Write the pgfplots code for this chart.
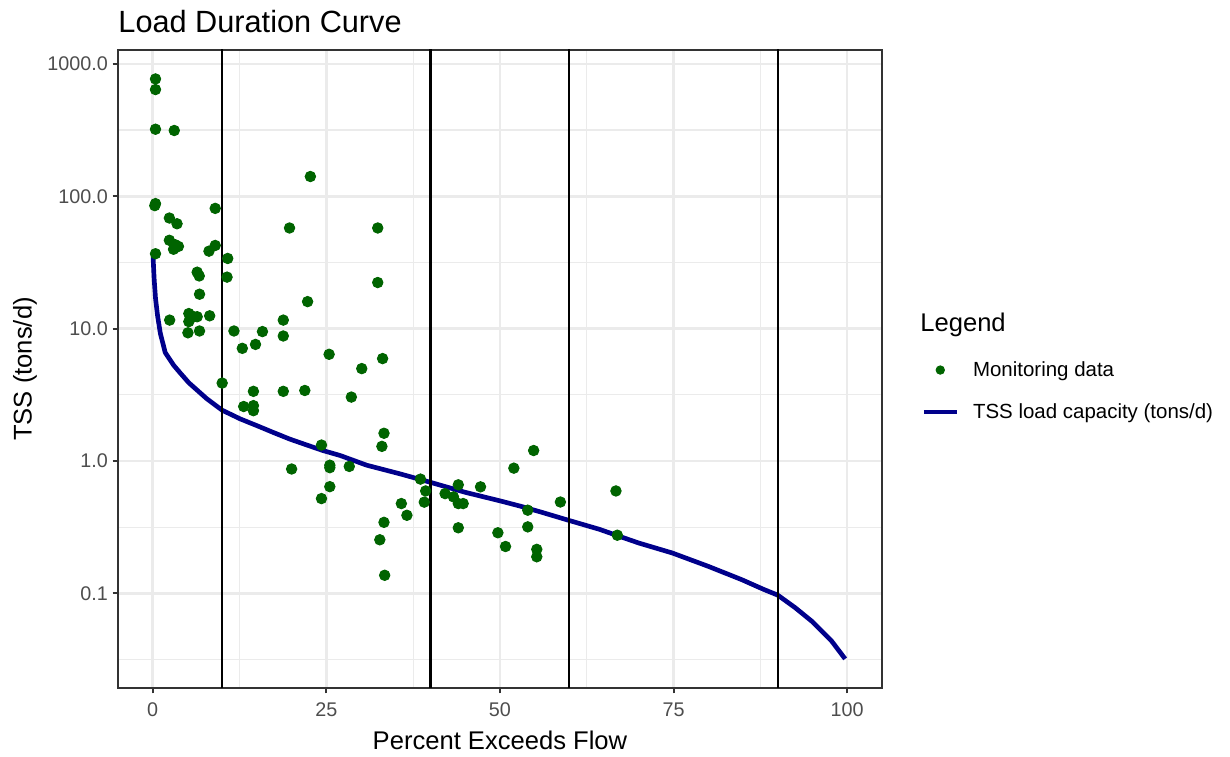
\documentclass[border=0pt]{standalone}
\usepackage{fontspec}
\setmainfont{Liberation Sans}
\usepackage{pgfplots}
\pgfplotsset{compat=1.18}

\definecolor{gray92}{RGB}{235,235,235}
\definecolor{gray30}{RGB}{77,77,77}
\definecolor{gray20}{RGB}{51,51,51}
\definecolor{ptgreen}{RGB}{0,100,0}
\definecolor{capblue}{RGB}{0,0,139}

\pgfplotsset{
    linekey/.style={legend image code/.code={\draw[##1] (0pt,0pt) -- (14.2pt,0pt);}},
    dotkey/.style={legend image code/.code={\path (0pt,0pt) (14.2pt,0pt); \fill[ptgreen] (7.1pt,0pt) circle (1.8pt);}},
}

\begin{document}
\begin{tikzpicture}
\useasboundingbox (-50.74pt,-29.67pt) rectangle (478.2pt,295.84pt);
\begin{axis}[
    scale only axis,
    width=328.52pt, height=274.34pt,
    xmin=-5, xmax=105,
    ymode=log, ymin=0.0193, ymax=1274,
    xtick={0,25,50,75,100},
    minor xtick={12.5,37.5,62.5,87.5},
    ytick={0.1,1,10,100,1000},
    yticklabels={0.1,1.0,10.0,100.0,1000.0},
    minor ytick={0.0316228,0.316228,3.16228,31.6228,316.228},
    grid=both,
    major grid style={color=gray92, line width=1.07pt},
    minor grid style={color=gray92, line width=0.53pt},
    minor tick length=0pt,
    major tick length=2.3pt,
    tick align=outside,
    tick pos=left,
    every tick/.style={gray20, line width=0.8pt},
    axis line style={gray20, line width=0.8pt},
    /pgf/number format/assume math mode=true,
    tick label style={font=\fontsize{8.5}{10}\selectfont, text=gray30},
    yticklabel style={xshift=1.5pt},
    xticklabel style={yshift=-0.5pt},
    label style={font=\fontsize{11}{13}\selectfont},
    xlabel={Percent Exceeds Flow},
    ylabel={TSS (tons/d)},
    xlabel style={at={(axis description cs:0.5,-0.0817)}, anchor=center},
    ylabel style={at={(axis description cs:-0.1218,0.5)}, anchor=center},
    legend cell align=left,
    reverse legend,
    legend style={draw=none, fill=none, at={(axis description cs:1.0511,0.4655)}, anchor=west,
        inner sep=0pt, row sep=7.5pt, column sep=6.0pt,
        nodes={inner sep=0pt, text height=8pt, text depth=2.5pt},
        font=\fontsize{8.8}{10}\selectfont},
]

% TSS load capacity curve
\addplot[capblue, line width=2.0pt, line join=round, linekey]
coordinates {
(0.05,35) (0.2,24) (0.4,17) (0.7,12.5) (1.1,9.2) (1.8,6.6) (3.0,5.3)
(4.0,4.6) (5.2,3.9) (7.8,2.95) (10,2.42) (12.6,2.08) (15,1.85) (17.4,1.64)
(19.8,1.46) (22.2,1.32) (24.5,1.20) (27,1.10) (30.8,0.93) (35.6,0.80)
(40,0.69) (45,0.58) (50,0.50) (53,0.455) (56,0.41) (60,0.355) (64.3,0.305)
(67,0.272) (70,0.24) (74.8,0.202) (80,0.16) (84.8,0.127) (88,0.107)
(90,0.097) (92.5,0.078) (95,0.061) (97.7,0.044) (99.7,0.032)
};

% flow zone boundaries
\addplot[black, line width=0.9pt, forget plot] coordinates {(10,0.001) (10,10000)};
\addplot[black, line width=0.9pt, forget plot] coordinates {(40,0.001) (40,10000)};
\addplot[black, line width=0.9pt, forget plot] coordinates {(60,0.001) (60,10000)};
\addplot[black, line width=0.9pt, forget plot] coordinates {(90,0.001) (90,10000)};

% monitoring data
\addplot[only marks, mark=*, mark size=2.25pt, color=ptgreen, mark options={draw=ptgreen, fill=ptgreen}, dotkey]
coordinates {
(0.4,770) (0.4,640) (0.4,321) (3.1,314) (0.3,85) (0.4,88) (9.0,81)
(2.4,68.5) (3.5,62) (2.4,46.5) (3.25,43) (3.7,41.8) (3.0,39.8) (0.4,36.8)
(9.0,42.5) (8.1,38.5) (10.8,33.9) (10.7,24.5) (6.4,26.7) (6.7,25) (6.74,18.2)
(2.44,11.6) (5.2,13.0) (5.9,12.3) (5.2,11.3) (6.4,12.3) (8.2,12.5) (5.07,9.3)
(6.74,9.6) (11.7,9.6) (12.9,7.1) (14.8,7.6) (15.8,9.5) (18.8,11.6) (18.8,8.8)
(22.3,16) (25.4,6.4) (10.0,3.88) (14.5,3.36) (18.8,3.36) (21.9,3.41)
(13.1,2.58) (14.5,2.62) (14.5,2.4) (24.3,1.32) (25.5,0.93) (25.5,0.89)
(20.0,0.87) (25.5,0.64) (24.3,0.52) (22.7,141) (19.7,57.6) (32.4,57.6)
(32.4,22.3) (30.1,4.99) (33.1,5.94) (28.6,3.04) (28.3,0.91) (33.3,1.62)
(33.0,1.29) (38.55,0.73) (39.3,0.594) (39.1,0.489) (35.8,0.477) (36.6,0.389)
(33.3,0.344) (32.7,0.254) (33.4,0.137) (42.1,0.567) (43.3,0.536) (44.0,0.661)
(44.0,0.477) (44.7,0.477) (47.2,0.638) (44.0,0.313) (49.7,0.287) (50.8,0.226)
(52.0,0.883) (54.85,1.20) (58.7,0.49) (54.0,0.425) (54.0,0.318) (55.3,0.215)
(55.3,0.189) (66.7,0.594) (66.9,0.275)
};

\legend{TSS load capacity (tons/d), Monitoring data}
\coordinate (titlepos) at (axis description cs:0,1);
\coordinate (legtitle) at (axis description cs:1.0497,0.569);
\end{axis}
\node[anchor=base west, inner sep=0pt, font=\fontsize{13.2}{15}\selectfont] at ([yshift=7.4pt]titlepos) {Load Duration Curve};
\node[anchor=west, inner sep=0pt, font=\fontsize{11}{13}\selectfont] at (legtitle) {Legend};
\end{tikzpicture}
\end{document}
